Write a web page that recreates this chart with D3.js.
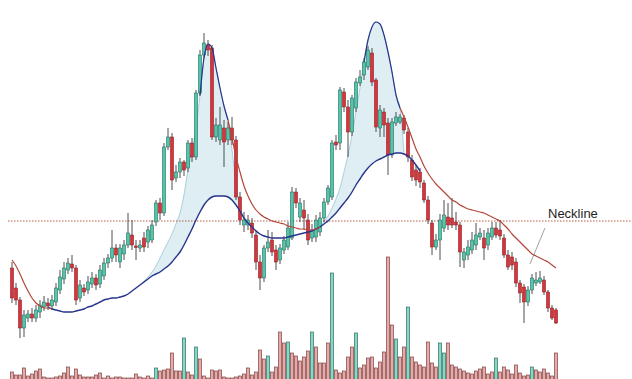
<!DOCTYPE html>
<html>
<head>
<meta charset="utf-8">
<script src="https://cdn.jsdelivr.net/npm/d3@7"></script>
<style>
  body { margin: 0; background: #fff; }
  svg { display: block; }
</style>
</head>
<body>
<div id="chart"></div>
<script>
// price values (arbitrary units), one per candle
const openPrices = [132,112,100,72,82,86,82,88,93,97, 94,98,110,121,130,136,132,102,112,110,
  116,122,116,124,137,142,152,138,146,155, 165,154,152,162,158,160,178,197,187,253,
  263,222,228,238,232,257,243,307,345,355, 352,263,260,272,260,272,260,203,175,175,
  177,165,138,122,152,160,150,140,150,153, 162,208,183,190,180,162,163,168,182,198,
  203,258,257,308,293,268,292,317,325,333, 347,320,272,288,277,245,277,278,282,268,
  240,230,228,217,200,177,153,160,172,183, 182,178,175,140,145,150,155,163,162,155,
  163,172,170,162,145,143,138,117,113,98, 110,117,118,120,108,92,90];
const closePrices = [102,100,72,85,86,82,90,95,98,94, 100,112,123,132,137,132,100,115,108,118,
  122,115,130,137,142,152,145,152,155,167, 155,153,155,153,170,175,197,187,253,263,
  220,228,238,230,257,243,307,345,357,350, 263,275,275,258,272,260,203,180,180,180,
  167,138,122,152,158,148,138,152,160,172, 208,197,197,182,160,170,180,182,198,212,
  257,255,310,293,268,302,318,323,338,350, 318,273,290,275,245,278,283,283,270,243,
  223,220,218,200,180,153,160,180,185,175, 175,175,148,148,153,160,165,167,152,167,
  172,165,164,145,133,135,117,107,98,110, 122,120,122,108,92,82,77];
const highPrices = [138,117,103,90,90,92,95,100,104,102, 105,117,130,138,142,145,135,120,116,124,
  128,126,135,142,146,170,156,156,160,187, 180,160,160,168,174,180,200,202,257,272,
  267,235,242,240,260,262,310,350,367,360, 355,282,293,280,278,283,264,208,188,185,
  182,170,145,155,170,168,155,156,164,178, 213,212,202,200,186,176,185,188,202,215,
  260,265,313,312,300,305,322,330,342,354, 352,322,295,292,282,282,288,286,285,272,
  245,235,232,220,204,180,166,186,200,197, 202,188,178,152,160,168,177,172,170,172,
  178,178,180,166,150,148,142,120,116,114, 126,128,129,124,110,95,92];
const lowPrices = [97,95,62,63,78,78,78,82,89,90, 90,94,106,116,126,128,95,98,104,106,
  112,110,112,120,132,138,138,132,140,152, 150,140,148,148,152,157,174,180,184,250,
  210,218,222,224,228,238,240,304,342,344, 260,258,255,233,255,255,200,175,168,170,
  162,130,110,118,148,144,130,136,146,150, 160,192,178,170,155,158,158,164,178,195,
  200,250,250,288,243,264,288,314,320,330, 314,268,263,263,225,242,274,276,266,238,
  219,214,212,197,176,145,150,140,168,170, 172,170,133,132,140,146,150,160,140,150,
  160,162,160,142,130,130,113,97,77,94, 106,114,116,105,88,80,76];

const volumes = [7,4,4,11,3,5,8,10,2,1, 1,2,3,6,12,3,10,4,2,2,
  2,4,6,1,3,1,2,2,1,1, 1,5,2,1,3,1,11,8,9,10,
  26,8,8,41,7,4,32,20,3,1, 9,8,9,2,1,1,2,3,5,11,
  4,7,29,20,23,7,12,47,36,37, 26,23,18,22,28,47,32,16,16,36,
  106,9,6,8,22,32,46,11,14,21, 22,11,17,27,122,54,40,22,32,72,
  22,17,14,12,37,16,12,36,26,36, 14,12,10,8,6,5,8,10,12,5,
  7,21,7,12,9,5,14,6,3,4, 12,9,7,10,6,3,26];
// candles whose volume bar is drawn green
const greenVolumeIdx = [36,43,46,64,69,75,80,86,96,99,107,108,121,130];

// red moving average, in three visible pieces (first candle index, values)
const redMaLeftStart = 0;
const redMaLeft = [140,134,126,117,109,102,97,94,92,92,91];
const redMaMidStart = 54;
const redMaMid = [280,262,243,228,214,204,196,190,186,183, 181,179,178,177,176,174,173,172,171,171,
  170,170,171,173];
const redMaRightStart = 97;
const redMaRight = [292,283,273,262,251,243,234,227,221,216, 212,208,204,200,198,195,193,191,190,189,
  188,187,185,183,181,179,175,171,166,162, 158,154,150,146,144,142,140,138,135,132];

// blue (slow) moving average
const blueMaStart = 9;
const blueMa = [93,91,90,89,88,88,88,89,90,91, 93,94,96,98,100,101,102,102,103,104,
  106,109,112,115,118,121,124,126,128,131, 134,138,143,148,155,163,171,180,188,195,
  200,203,204,204,204,203,200,195,189,182, 177,173,169,166,164,163,162,162,162,162,
  163,164,165,166,167,168,169,171,173,176, 179,183,187,192,197,202,208,215,221,227,
  232,236,239,241,243,245,246,247,247,246, 244,240,235,229];

// upper edge of the two shaded humps
const cloudLeftStart = 32;
const cloudLeft = [115,119,123,128,134,142,150,158,166,176, 187,205,230,250,272,305,342,356,352,332,
  312,294,280,250,215,189];
const cloudRightStart = 77;
const cloudRight = [173,178,184,192,201,212,228,245,265,288, 312,338,360,373,378,376,365,348,328,305,
  292,246];

const necklinePrice = 179;
const necklineLabel = "Neckline";

class DoubleTopChart {
  constructor(_config) {
    this.config = {
      parentElement: _config.parentElement,
      width: _config.width || 632,
      height: _config.height || 379,
      up: "#52c6aa",
      upStroke: "#1f5c4f",
      down: "#d9343c",
      downStroke: "#7c1c20",
      wick: "#3a3a3a",
      red: "#b4473c",
      navy: "#26348c",
    };
    this.initVis();
  }

  initVis() {
    const vis = this;
    const n = openPrices.length;

    vis.svg = d3
      .select(vis.config.parentElement)
      .append("svg")
      .attr("width", vis.config.width)
      .attr("height", vis.config.height);

    vis.x = d3.scaleLinear().domain([0, n - 1]).range([12, 556]);
    vis.y = d3.scaleLinear().domain([0, 400]).range([400, 0]);
    vis.yVol = d3.scaleLinear().domain([0, 130]).range([379, 249]);

    const toPoints = (start, arr) => arr.map((v, k) => ({ i: start + k, v: v }));
    const blue = toPoints(blueMaStart, blueMa);
    const blueAt = (i) => blueMa[i - blueMaStart];

    const clouds = [
      toPoints(cloudLeftStart, cloudLeft),
      toPoints(cloudRightStart, cloudRight),
    ];

    // shaded humps between the cloud edge and the blue average
    const area = d3
      .area()
      .curve(d3.curveMonotoneX)
      .x((d) => vis.x(d.i))
      .y0((d) => vis.y(blueAt(d.i)))
      .y1((d) => vis.y(d.v));
    vis.svg
      .selectAll("path.cloud")
      .data(clouds)
      .join("path")
      .attr("class", "cloud")
      .attr("d", area)
      .attr("fill", "#d3e8ef")
      .attr("fill-opacity", 0.75);

    const line = d3
      .line()
      .curve(d3.curveMonotoneX)
      .x((d) => vis.x(d.i))
      .y((d) => vis.y(d.v));

    vis.svg
      .selectAll("path.cloudEdge")
      .data(clouds)
      .join("path")
      .attr("class", "cloudEdge")
      .attr("d", line)
      .attr("fill", "none")
      .attr("stroke", "#a9cfdd")
      .attr("stroke-width", 1);

    // volume bars
    vis.svg
      .selectAll("rect.vol")
      .data(volumes)
      .join("rect")
      .attr("class", "vol")
      .attr("x", (d, i) => vis.x(i) - 1.5)
      .attr("width", 3)
      .attr("y", (d) => vis.yVol(d))
      .attr("height", (d) => vis.yVol(0) - vis.yVol(d) + 2)
      .attr("fill", (d, i) => (greenVolumeIdx.includes(i) ? "#86d8c4" : "#e6aaa8"))
      .attr("stroke", (d, i) => (greenVolumeIdx.includes(i) ? "#2d6f60" : "#7e4040"))
      .attr("stroke-width", 0.7);

    // neckline
    vis.svg
      .append("line")
      .attr("x1", 8)
      .attr("x2", vis.config.width)
      .attr("y1", vis.y(necklinePrice))
      .attr("y2", vis.y(necklinePrice))
      .attr("stroke", "#b45a45")
      .attr("stroke-width", 1)
      .attr("stroke-dasharray", "1.5,1.5");

    // candles
    const candles = openPrices.map((o, i) => ({
      i: i,
      o: o,
      c: closePrices[i],
      h: highPrices[i],
      l: lowPrices[i],
    }));
    const g = vis.svg
      .selectAll("g.candle")
      .data(candles)
      .join("g")
      .attr("class", "candle");
    g.append("line")
      .attr("x1", (d) => vis.x(d.i))
      .attr("x2", (d) => vis.x(d.i))
      .attr("y1", (d) => vis.y(d.h))
      .attr("y2", (d) => vis.y(d.l))
      .attr("stroke", vis.config.wick)
      .attr("stroke-width", 0.9);
    g.append("rect")
      .attr("x", (d) => vis.x(d.i) - 1.6)
      .attr("width", 3.2)
      .attr("y", (d) => vis.y(Math.max(d.o, d.c)))
      .attr("height", (d) => Math.max(1.5, Math.abs(vis.y(d.o) - vis.y(d.c))))
      .attr("fill", (d) => (d.c >= d.o ? vis.config.up : vis.config.down))
      .attr("stroke", (d) => (d.c >= d.o ? vis.config.upStroke : vis.config.downStroke))
      .attr("stroke-width", 0.5);

    // moving averages
    vis.svg
      .append("path")
      .datum(blue)
      .attr("d", line)
      .attr("fill", "none")
      .attr("stroke", vis.config.navy)
      .attr("stroke-width", 1.4);

    const navyTops = [
      toPoints(cloudLeftStart, cloudLeft).filter((d) => d.i >= 47 && d.i <= 54),
      toPoints(cloudRightStart, cloudRight).filter((d) => d.i >= 88 && d.i <= 97),
    ];
    vis.svg
      .selectAll("path.navyTop")
      .data(navyTops)
      .join("path")
      .attr("class", "navyTop")
      .attr("d", line)
      .attr("fill", "none")
      .attr("stroke", vis.config.navy)
      .attr("stroke-width", 1.2);

    const reds = [
      toPoints(redMaLeftStart, redMaLeft),
      toPoints(redMaMidStart, redMaMid),
      toPoints(redMaRightStart, redMaRight),
    ];
    vis.svg
      .selectAll("path.redMa")
      .data(reds)
      .join("path")
      .attr("class", "redMa")
      .attr("d", line)
      .attr("fill", "none")
      .attr("stroke", vis.config.red)
      .attr("stroke-width", 1.2);

    // label with pointer
    vis.svg
      .append("line")
      .attr("x1", 545)
      .attr("y1", vis.y(necklinePrice) + 7)
      .attr("x2", 530)
      .attr("y2", vis.y(necklinePrice) + 43)
      .attr("stroke", "#7a7a7a")
      .attr("stroke-width", 0.7);
    vis.svg
      .append("text")
      .attr("x", 548)
      .attr("y", vis.y(necklinePrice) - 3)
      .attr("font-family", "Liberation Sans, Arial, sans-serif")
      .attr("font-size", 13)
      .attr("fill", "#1e1e1e")
      .text(necklineLabel);
  }
}

new DoubleTopChart({ parentElement: "#chart" });
</script>
</body>
</html>
